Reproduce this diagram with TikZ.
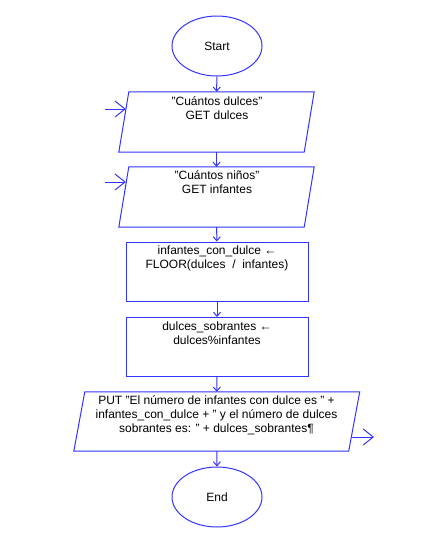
\documentclass[tikz,border=0pt]{standalone}
\usepackage{fontspec}
\setmainfont{Liberation Sans}
\usetikzlibrary{shapes.geometric,arrows.meta}
\definecolor{fc}{RGB}{51,51,255}
\begin{document}
\begin{tikzpicture}[x=1pt,y=-1pt,
 every node/.style={inner sep=0pt},
 shp/.style={draw=fc, line width=1pt},
 term/.style={shp, ellipse, minimum width=90pt, minimum height=60pt, font=\fontsize{12}{14}\selectfont},
 iobox/.style={rectangle, minimum width=185pt, minimum height=60pt},
 proc/.style={shp, rectangle, minimum width=182pt, minimum height=59pt},
 txt/.style={anchor=base, align=center, font=\fontsize{12}{14}\selectfont},
 flow/.style={draw=fc, line width=1pt, -{Straight Barb[length=4pt,width=7pt]}},
 inarr/.style={draw=fc, line width=1pt, -{Straight Barb[length=10pt,width=16pt]}}
]
\useasboundingbox (0,0) rectangle (421,547);
\node[term] (start) at (217,46) {Start};
\node[iobox] (p1) at (216.5,122) {};
\node[iobox] (p2) at (216.5,197) {};
\node[proc] (r1) at (217,271.5) {};
\node[proc] (r2) at (217,347) {};
\node[iobox, minimum width=274.5pt, minimum height=59pt] (out) at (216.75,421.5) {};
\node[term] (end) at (217,497) {End};
\foreach \n/\s in {p1/5,p2/5,out/5.5}{
  \draw[shp] ([xshift=\s pt]\n.north west) -- ([xshift=\s pt]\n.north east)
    -- ([xshift=-\s pt]\n.south east) -- ([xshift=-\s pt]\n.south west) -- cycle;
}
% texts
\node[txt] (t1) at (217,119) {"Cuántos dulces"\hspace{10pt}\\GET dulces};
\node[txt] (t2) at (217,193) {"Cuántos niños"\hspace{8pt}\\GET infantes};
\node[txt] (t3) at (217,268) {infantes\_con\_dulce ←\hspace{8pt}\\FLOOR(dulces\ \ /\ \ infantes)};
\node[txt] (t4) at (217,344) {dulces\_sobrantes ←\hspace{2pt}\\dulces\%infantes};
\node[txt] (t5) at (216.5,432) {PUT "El número de infantes con dulce es " +\hspace{3pt}\\infantes\_con\_dulce + " y el número de dulces\hspace{3pt}\\sobrantes es: " + dulces\_sobrantes¶};
% flow
\draw[flow] (start) -- (p1);
\draw[flow] (p1) -- (p2);
\draw[flow] (p2) -- (r1);
\draw[flow] (r1) -- (r2);
\draw[flow] (r2) -- (out);
\draw[flow] (out) -- (end);
\coordinate (in1) at (105,109);
\coordinate (in2) at (105,182);
\coordinate (ex) at (374,437);
\draw[inarr] (in1) -- ([xshift=2pt]in1 -| p1.west);
\draw[inarr] (in2) -- ([xshift=2pt]in2 -| p2.west);
\draw[inarr] ([xshift=-2pt]ex -| out.east) -- (ex);
\end{tikzpicture}
\end{document}
